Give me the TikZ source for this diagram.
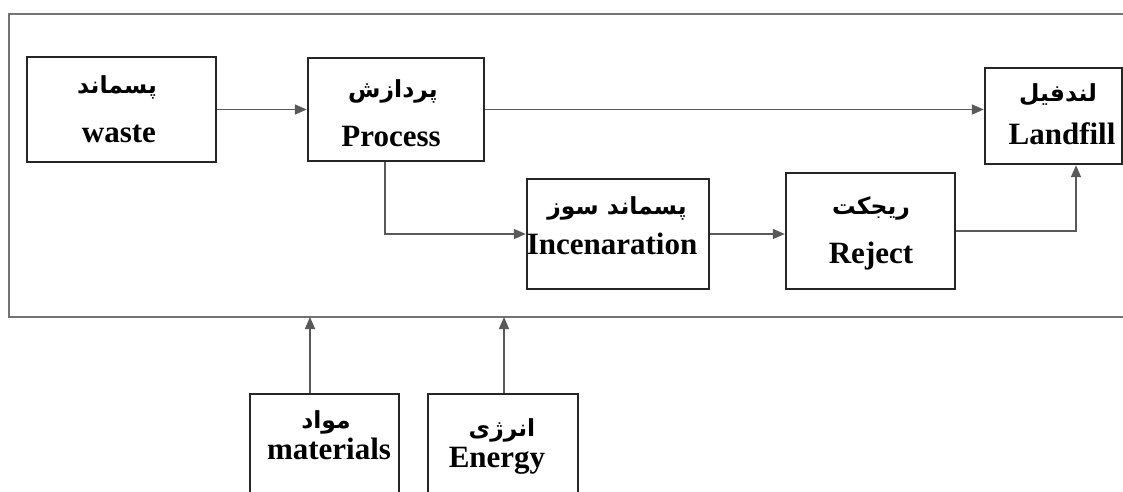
\documentclass[tikz,border=0pt]{standalone}
\usepackage{fontspec}
\setmainfont{Liberation Serif}
\newfontfamily\farsifont[Script=Arabic]{DejaVu Sans}
\TeXXeTstate=1
\usetikzlibrary{arrows.meta,calc}
\begin{document}
\begin{tikzpicture}
    [x=1pt, y=-1pt,
    BoxNode/.style={rectangle, draw=black!85, line width=2.4pt, inner sep=0pt},
    EnLabel/.style={anchor=base, inner sep=0pt, font=\fontsize{31}{36}\selectfont\bfseries},
    FaLabel/.style={anchor=base, inner sep=0pt, font=\fontsize{23.5}{28}\selectfont\farsifont\bfseries},
    Link/.style={draw=black!65, line width=1.6pt, -{Triangle[length=12pt,width=10pt]}}]
     \useasboundingbox (0,0) rectangle (1123,491);
     \clip (0,0) rectangle (1123,491);
     % outer frame, open to the right
     \draw[black!55, line width=2pt] (1140,14) -- (9,14) -- (9,317) -- (1140,317);
     \node[BoxNode, minimum width=189pt, minimum height=105pt] (WasteBox) at (121.5,109.5){};
     \node[BoxNode, minimum width=176pt, minimum height=103pt] (ProcessBox) at (396,109.5){};
     \node[BoxNode, minimum width=137pt, minimum height=96pt] (LandfillBox) at (1053.5,116){};
     \node[BoxNode, minimum width=182pt, minimum height=110pt] (IncinBox) at (618,234){};
     \node[BoxNode, minimum width=169pt, minimum height=116pt] (RejectBox) at (870.5,231){};
     \node[BoxNode, minimum width=149pt, minimum height=116pt] (MatBox) at (324.5,452){};
     \node[BoxNode, minimum width=150pt, minimum height=116pt] (EnergyBox) at (503,452){};
     % labels
     \node[FaLabel] (WasteFa) at (117,93){\beginR پسماند\endR};
     \node[EnLabel] (WasteEn) at (119,142){waste};
     \node[FaLabel] (ProcessFa) at (393,97){\beginR پردازش\endR};
     \node[EnLabel] (ProcessEn) at (391,146){Process};
     \node[FaLabel] (LandfillFa) at (1058,101){\beginR لندفیل\endR};
     \node[EnLabel] (LandfillEn) at (1062,144){Landfill};
     \node[FaLabel] (IncinFa) at (617,214){\beginR پسماند سوز\endR};
     \node[EnLabel] (IncinEn) at (612,254){Incenaration};
     \node[FaLabel] (RejectFa) at (871,214){\beginR ریجکت\endR};
     \node[EnLabel] (RejectEn) at (871,263){Reject};
     \node[FaLabel] (MatFa) at (326,428){\beginR مواد\endR};
     \node[EnLabel] (MatEn) at (329,459){materials};
     \node[FaLabel] (EnergyFa) at (502,436){\beginR انرژی\endR};
     \node[EnLabel] (EnergyEn) at (497,467){Energy};
     % connectors
     \coordinate (MatIn) at (310,317);
     \coordinate (EnergyIn) at (504,317);
     \draw[Link] (WasteBox.east) -- (ProcessBox.west);
     \draw[Link] (ProcessBox.east) -- (ProcessBox.east -| LandfillBox.west);
     \draw[Link] ($(ProcessBox.south)+(-11,0)$) |- (IncinBox.west);
     \draw[Link] (IncinBox.east) -- (IncinBox.east -| RejectBox.west);
     \draw[Link] (RejectBox.east) -| ($(LandfillBox.south)+(22.5,0)$);
     \draw[Link] (MatBox.north -| MatIn) -- (MatIn);
     \draw[Link] (EnergyBox.north -| EnergyIn) -- (EnergyIn);
\end{tikzpicture}
\end{document}
